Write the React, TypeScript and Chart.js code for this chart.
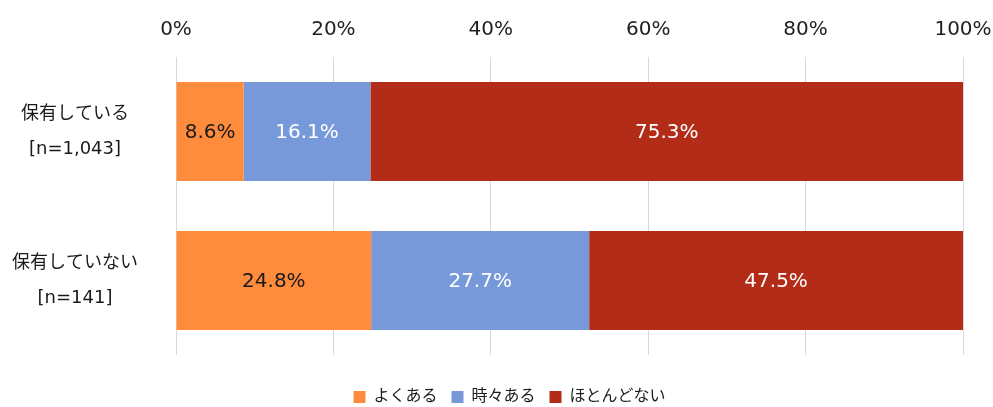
import React, { useEffect, useRef } from "react";
import { Chart, registerables } from "chart.js";

Chart.register(...registerables);

const categories: string[][] = [
  ["保有している", "[n=1,043]"],
  ["保有していない", "[n=141]"],
];
const seriesNames = ["よくある", "時々ある", "ほとんどない"];
const often = [8.6, 24.8];
const sometimes = [16.1, 27.7];
const rarely = [75.3, 47.5];
const seriesColors = ["#FF8B3D", "#7799DA", "#B22C18"];
const labelColors = ["#1a1a1a", "#ffffff", "#ffffff"];
const xTicks = [0, 20, 40, 60, 80, 100];

const FONT = '"DejaVu Sans", "Noto Sans CJK JP", sans-serif';

const valueLabels = {
  id: "valueLabels",
  afterDatasetsDraw(chart: any) {
    const ctx = chart.ctx;
    ctx.save();
    ctx.font = `20px ${FONT}`;
    ctx.textAlign = "center";
    ctx.textBaseline = "middle";
    chart.data.datasets.forEach((ds: any, di: number) => {
      const meta = chart.getDatasetMeta(di);
      meta.data.forEach((bar: any, i: number) => {
        const v = ds.data[i];
        const cx = (bar.x + bar.base) / 2;
        ctx.fillStyle = labelColors[di];
        ctx.fillText(v.toFixed(1) + "%", cx, bar.y + 1);
      });
    });
    ctx.restore();
  },
};

const legendShift = {
  id: "legendShift",
  afterLayout(chart: any) {
    if (chart.legend) {
      chart.legend.left += 28;
      chart.legend.right += 28;
    }
  },
};

export default function App() {
  const ref = useRef<HTMLCanvasElement>(null);
  useEffect(() => {
    const series = [often, sometimes, rarely];
    const chart = new Chart(ref.current!, {
      type: "bar",
      data: {
        labels: categories as any,
        datasets: series.map((d, i) => ({
          label: seriesNames[i],
          data: d,
          backgroundColor: seriesColors[i],
          borderWidth: 0,
          barPercentage: 0.664,
          categoryPercentage: 1,
          xAxisID: "x",
          yAxisID: "y",
        })),
      },
      options: {
        indexAxis: "y",
        animation: false,
        responsive: false,
        layout: { padding: { left: 0, right: 30, top: 0, bottom: -8 } },
        scales: {
          x: {
            type: "linear",
            position: "top",
            stacked: true,
            min: 0,
            max: 100,
            afterBuildTicks: (s: any) => {
              s.ticks = xTicks.map((v) => ({ value: v }));
            },
            afterFit: (s: any) => {
              s.height = 57;
              s.paddingLeft = 0;
              s.paddingRight = 0;
              s.paddingTop = 0;
              s.paddingBottom = 0;
            },
            grid: { color: "#d9d9d9", drawTicks: false, lineWidth: 1 },
            border: { display: false },
            ticks: {
              padding: 15,
              color: "#1f1f1f",
              font: { family: FONT, size: 20 },
              callback: (v: any) => v + "%",
            },
          },
          xb: {
            type: "linear",
            axis: "x",
            position: "bottom",
            display: true,
            grid: { display: false, drawTicks: false },
            border: { display: false },
            ticks: { display: false },
            afterFit: (s: any) => {
              s.height = 20;
              s.paddingLeft = 0;
              s.paddingRight = 0;
            },
          },
          y: {
            stacked: true,
            afterFit: (s: any) => {
              s.width = 176;
              s.paddingTop = 0;
              s.paddingBottom = 0;
            },
            grid: { display: false, drawTicks: false },
            border: { display: false },
            ticks: {
              crossAlign: "center",
              padding: 38,
              color: "#1a1a1a",
              font: { family: FONT, size: 18, lineHeight: 1.95 },
            },
          },
        } as any,
        plugins: {
          legend: {
            position: "bottom",
            labels: {
              boxWidth: 12,
              boxHeight: 12,
              padding: 14,
              color: "#1a1a1a",
              font: { family: FONT, size: 16 },
            },
          },
          tooltip: { enabled: false },
        },
      },
      plugins: [valueLabels, legendShift],
    });
    return () => chart.destroy();
  }, []);
  return (
    <div style={{ position: "absolute", left: 0, top: 0, width: 993, height: 407 }}>
      <canvas ref={ref} width={993} height={407} />
    </div>
  );
}
